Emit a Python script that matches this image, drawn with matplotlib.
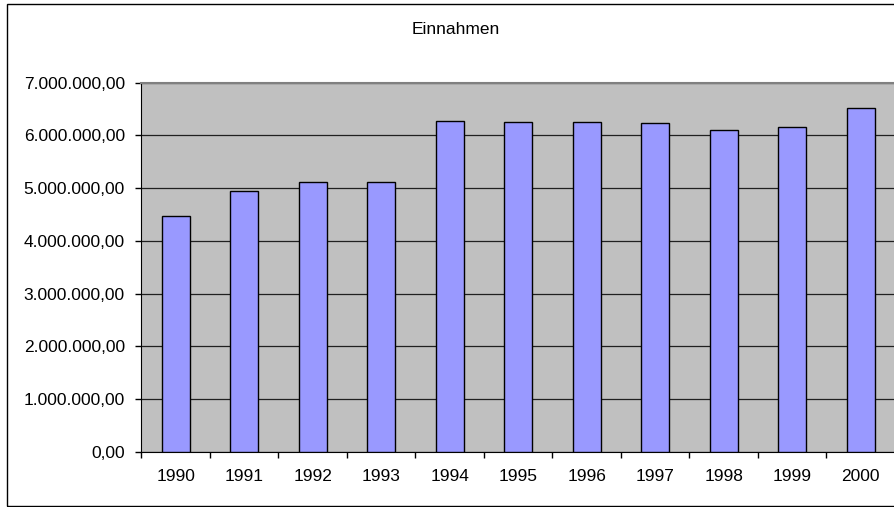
import matplotlib.pyplot as plt
from matplotlib.patches import Rectangle
from matplotlib.ticker import FuncFormatter, FixedLocator

# -----------------------
# Data
# -----------------------
years = ['1990', '1991', '1992', '1993', '1994', '1995',
         '1996', '1997', '1998', '1999', '2000']
einnahmen = [4480000, 4940000, 5120000, 5120000, 6270000, 6250000,
             6250000, 6230000, 6110000, 6160000, 6520000]
title = 'Einnahmen'

plt.rcParams['font.family'] = ['Liberation Sans', 'DejaVu Sans']


def de_format(v, pos=None):
    s = f'{v:,.2f}'
    return s.replace(',', 'X').replace('.', ',').replace('X', '.')


fig = plt.figure(figsize=(8.95, 5.07), dpi=100)
ax = fig.add_axes([141.5 / 895, 1 - 452 / 507, (895 - 141.5) / 895, (452 - 82.7) / 507])

ax.set_facecolor('#C0C0C0')
x = range(len(years))
ax.bar(x, einnahmen, width=0.41, color='#9999FF', edgecolor='black',
       linewidth=1.0, zorder=3)

ax.set_xlim(-0.5, len(years) - 0.5)
ax.set_ylim(0, 7000000)
ax.set_yticks(range(0, 7000001, 1000000))
ax.yaxis.set_major_formatter(FuncFormatter(de_format))
ax.grid(axis='y', color='#202020', linewidth=0.9, zorder=1)

# category labels centred, ticks between categories
ax.xaxis.set_major_locator(FixedLocator([i - 0.5 for i in range(len(years) + 1)]))
ax.xaxis.set_major_formatter(FuncFormatter(lambda v, p: ''))
ax.xaxis.set_minor_locator(FixedLocator(list(x)))
ax.set_xticklabels(years, minor=True)
ax.tick_params(axis='x', which='minor', length=0, pad=12, labelsize=12.5)
ax.tick_params(axis='x', which='major', length=4, width=1, direction='out')
ax.tick_params(axis='y', length=4, width=1, pad=8, labelsize=12.5)

ax.spines['left'].set_color('black')
ax.spines['bottom'].set_color('black')
ax.spines['top'].set_color('#808080')
ax.spines['top'].set_linewidth(1.5)
ax.spines['right'].set_visible(False)

fig.text(456 / 895, 1 - 29 / 507, title, ha='center', va='center', fontsize=12.5)

# outer chart border
fig.patches.append(Rectangle((7 / 895, 1 - 506 / 507), 1.0, 502 / 507,
                             transform=fig.transFigure, fill=False,
                             edgecolor='black', linewidth=1.0))

fig.savefig('out.png', dpi=100)
